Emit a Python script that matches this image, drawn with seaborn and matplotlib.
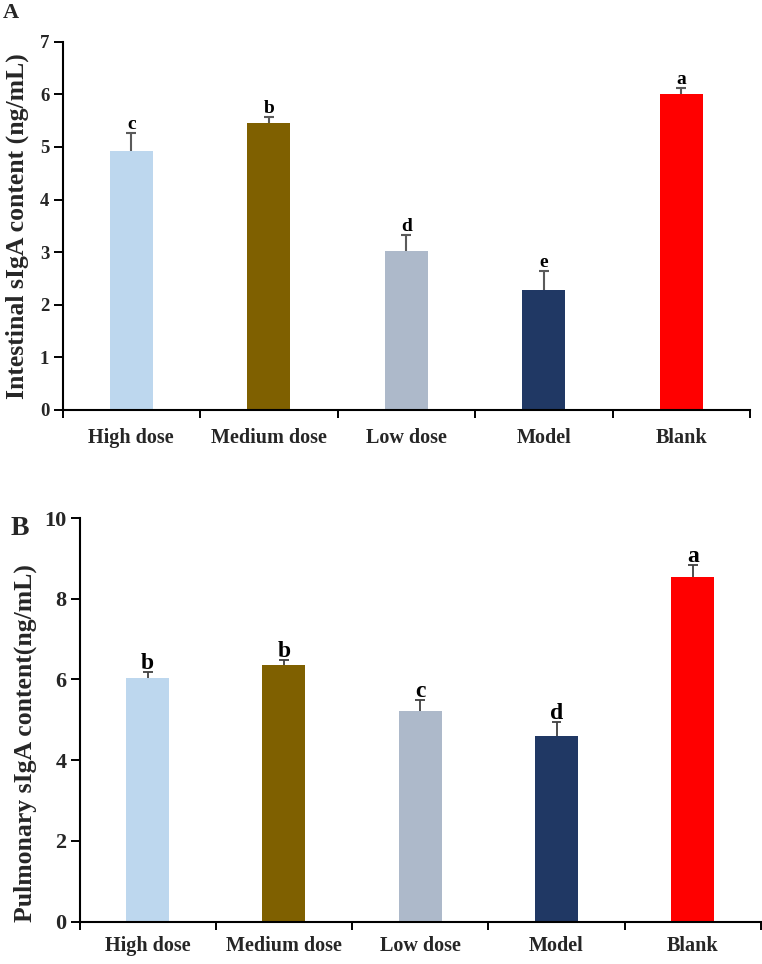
import numpy as np
import pandas as pd
import matplotlib
matplotlib.use("Agg")
import matplotlib.pyplot as plt
import seaborn as sns

# ---- data ----
groups = ["High dose", "Medium dose", "Low dose", "Model", "Blank"]
bar_colors = ["#BDD7EE", "#7F6000", "#ADB9CA", "#203864", "#FF0000"]

intestinal_mean = [4.93, 5.45, 3.02, 2.29, 6.01]
intestinal_err = [0.33, 0.12, 0.31, 0.35, 0.11]
intestinal_letters = ["c", "b", "d", "e", "a"]

pulmonary_mean = [6.04, 6.35, 5.22, 4.59, 8.55]
pulmonary_err = [0.14, 0.14, 0.28, 0.35, 0.28]
pulmonary_letters = ["b", "b", "c", "d", "a"]

sns.set_theme(style="white")
plt.rcParams["font.family"] = ["Liberation Serif", "DejaVu Serif"]
plt.rcParams["font.weight"] = "bold"

W, H = 762, 964
fig = plt.figure(figsize=(W / 100, H / 100), dpi=100)


def ax_rect(x0, x1, y_top, y_bot):
    return [x0 / W, 1 - y_bot / H, (x1 - x0) / W, (y_bot - y_top) / H]


def panel(ax, means, errs, letters, ymax, ystep, ylabel, ytick_fs, letter_fs,
          label_fs, err_color, err_lw, letter_off, xlab_pad, ylab_xy):
    df = pd.DataFrame({"group": groups, "value": means})
    sns.barplot(data=df, x="group", y="value", hue="group", order=groups,
                palette=dict(zip(groups, bar_colors)), width=0.315,
                errorbar=None, legend=False, ax=ax, linewidth=0, saturation=1)
    xs = np.arange(len(groups))
    tops = np.array(means) + np.array(errs)
    ax.vlines(xs, means, tops, color=err_color, lw=err_lw, zorder=3)
    ax.hlines(tops, xs - 0.036, xs + 0.036, color=err_color, lw=err_lw, zorder=3)
    for x, t, l in zip(xs, tops, letters):
        ax.annotate(l, (x, t), xytext=(0, letter_off), textcoords="offset points",
                    ha="center", va="baseline", fontsize=letter_fs,
                    fontweight="bold", color="black")
    ax.set_xlim(-0.5, len(groups) - 0.5)
    ax.set_ylim(0, ymax)
    ax.set_yticks(np.arange(0, ymax + 0.01, ystep))
    ax.set_yticklabels([f"{int(v)}" for v in np.arange(0, ymax + 0.01, ystep)],
                       fontsize=ytick_fs, fontweight="bold")
    ax.set_xticks(xs)
    ax.set_xticklabels(groups, fontsize=14.5, fontweight="bold")
    ax.set_xticks(np.arange(-0.5, len(groups)), minor=True)
    ax.tick_params(axis="x", which="major", length=0, pad=xlab_pad)
    ax.tick_params(axis="x", which="minor", direction="out", length=6,
                   width=1.4, color="black", bottom=True)
    ax.tick_params(axis="y", direction="out", length=6.5, width=1.4,
                   color="black", pad=3, left=True)
    ax.set_xlabel("")
    ax.set_ylabel(ylabel, fontsize=label_fs, fontweight="bold")
    ax.yaxis.set_label_coords(*ylab_xy, transform=fig.transFigure)
    for s in ["top", "right"]:
        ax.spines[s].set_visible(False)
    for s in ["left", "bottom"]:
        ax.spines[s].set_color("black")
        ax.spines[s].set_linewidth(1.5)
    ax.grid(False)


axA = fig.add_axes(ax_rect(62.5, 750, 41.7, 410))
panel(axA, intestinal_mean, intestinal_err, intestinal_letters, 7, 1,
      "Intestinal sIgA content (ng/mL)", 13.5, 14, 18.5, "#5a5a5a", 1.5, 3,
      13, (29 / W, 1 - 226 / H))

axB = fig.add_axes(ax_rect(79.5, 761, 518, 921.7))
panel(axB, pulmonary_mean, pulmonary_err, pulmonary_letters, 10, 2,
      "Pulmonary sIgA content(ng/mL)", 16, 17, 18.5, "#404040", 1.3, 2,
      10, (37 / W, 1 - 743 / H))

fig.text(3 / W, 1 - 3 / H, "A", ha="left", va="top", fontsize=16,
         fontweight="bold")
fig.text(11 / W, 1 - 516 / H, "B", ha="left", va="top", fontsize=20,
         fontweight="bold")

fig.savefig("out.png", dpi=100)
